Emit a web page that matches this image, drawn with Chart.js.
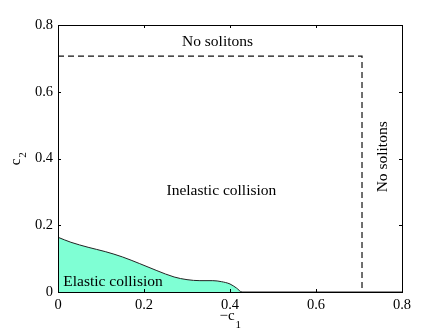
<!DOCTYPE html>
<html><head><meta charset="utf-8">
<script src="https://cdn.jsdelivr.net/npm/chart.js@4/dist/chart.umd.min.js"></script>
<style>html,body{margin:0;padding:0;background:#fff}#wrap{width:443px;height:333px}</style>
</head><body><div id="wrap"><canvas id="c" width="443" height="333"></canvas></div>
<script>
// Elastic-collision region boundary (−c1, c2)
const elasticX = [0, 0.03, 0.07, 0.11, 0.15, 0.19, 0.23, 0.27, 0.30, 0.33, 0.36, 0.38, 0.40, 0.415, 0.428, 0.8];
const elasticY = [0.164, 0.149, 0.134, 0.121, 0.105, 0.085, 0.064, 0.045, 0.037, 0.034, 0.034, 0.031, 0.024, 0.012, 0, 0];
// Soliton-existence boundary (dashed)
const boundaryX = [0, 0.707, 0.707];
const boundaryY = [0.707, 0.707, 0];
// Tick values / labels
const tickValues = [0, 0.2, 0.4, 0.6, 0.8];
const tickLabels = ['0', '0.2', '0.4', '0.6', '0.8'];
// Region labels
const regionLabels = ['No solitons', 'Inelastic collision', 'No solitons', 'Elastic collision'];

const pts = (xs, ys) => xs.map((x, i) => ({x, y: ys[i]}));
const serif = '"Liberation Serif", "Times New Roman", serif';

const decor = {
  id: 'decor',
  afterDatasetsDraw(chart) {
    const {ctx, chartArea: a, scales: {x, y}} = chart;
    ctx.save();
    ctx.strokeStyle = '#000';
    ctx.lineWidth = 1;
    // box
    ctx.strokeRect(Math.round(a.left) + 0.5, Math.round(a.top) + 0.5, Math.round(a.right - a.left), Math.round(a.bottom - a.top));
    // inside ticks
    const L = 3;
    ctx.beginPath();
    tickValues.forEach(v => {
      const px = Math.round(x.getPixelForValue(v)) + 0.5;
      ctx.moveTo(px, a.bottom); ctx.lineTo(px, a.bottom - L);
      ctx.moveTo(px, a.top); ctx.lineTo(px, a.top + L);
      const py = Math.round(y.getPixelForValue(v)) + 0.5;
      ctx.moveTo(a.left, py); ctx.lineTo(a.left + L, py);
      ctx.moveTo(a.right, py); ctx.lineTo(a.right - L, py);
    });
    ctx.stroke();
    // region labels
    ctx.fillStyle = '#000';
    ctx.font = '15.5px ' + serif;
    ctx.textAlign = 'center';
    ctx.textBaseline = 'middle';
    ctx.fillText(regionLabels[0], x.getPixelForValue(0.371), y.getPixelForValue(0.75));
    ctx.fillText(regionLabels[1], x.getPixelForValue(0.380), y.getPixelForValue(0.303));
    ctx.fillText(regionLabels[3], x.getPixelForValue(0.128), y.getPixelForValue(0.031));
    ctx.save();
    ctx.translate(x.getPixelForValue(0.755), y.getPixelForValue(0.405));
    ctx.rotate(-Math.PI / 2);
    ctx.fillText(regionLabels[2], 0, 0);
    ctx.restore();
    // axis titles
    ctx.textAlign = 'left';
    ctx.textBaseline = 'alphabetic';
    ctx.font = '15px ' + serif;
    const xt = '\u2212c';
    const w = ctx.measureText(xt).width;
    const cx = (a.left + a.right) / 2 - 3;
    ctx.fillText(xt, cx - w / 2, 320);
    ctx.font = '11px ' + serif;
    ctx.fillText('1', cx + w / 2 + 1, 328);
    ctx.save();
    ctx.translate(20, 160);
    ctx.rotate(-Math.PI / 2);
    ctx.font = '15px ' + serif;
    const wc = ctx.measureText('c').width;
    ctx.fillText('c', -wc / 2 - 2, 0);
    ctx.font = '11px ' + serif;
    ctx.fillText('2', wc / 2 - 1, 6);
    ctx.restore();
    ctx.restore();
  }
};

new Chart(document.getElementById('c'), {
  type: 'scatter',
  data: {
    datasets: [
      {
        data: pts(elasticX, elasticY),
        showLine: true,
        fill: 'origin',
        backgroundColor: '#7fffd4',
        borderColor: '#222',
        borderWidth: 1,
        pointRadius: 0,
        cubicInterpolationMode: 'monotone'
      },
      {
        data: pts(boundaryX, boundaryY),
        showLine: true,
        fill: false,
        borderColor: '#111',
        borderWidth: 1.2,
        borderDash: [6, 4],
        pointRadius: 0
      }
    ]
  },
  options: {
    responsive: false,
    animation: false,
    devicePixelRatio: 1,
    layout: {padding: {left: 0, top: 25, right: 41, bottom: 0}},
    plugins: {legend: {display: false}, tooltip: {enabled: false}},
    scales: {
      x: {
        type: 'linear', min: 0, max: 0.8,
        afterBuildTicks: s => { s.ticks = tickValues.map(v => ({value: v})); },
        ticks: {
          callback: (v) => tickLabels[tickValues.indexOf(Math.round(v * 10) / 10)],
          color: '#000', padding: 4, maxRotation: 0,
          font: {family: serif, size: 14.5}
        },
        grid: {display: false, drawTicks: false},
        border: {display: false},
        afterFit: s => { s.height = 41; }
      },
      y: {
        type: 'linear', min: 0, max: 0.8,
        afterBuildTicks: s => { s.ticks = tickValues.map(v => ({value: v})); },
        ticks: {
          callback: (v) => tickLabels[tickValues.indexOf(Math.round(v * 10) / 10)],
          color: '#000', padding: 5,
          font: {family: serif, size: 14.5}
        },
        grid: {display: false, drawTicks: false},
        border: {display: false},
        afterFit: s => { s.width = 58; }
      }
    }
  },
  plugins: [decor]
});
</script></body></html>
